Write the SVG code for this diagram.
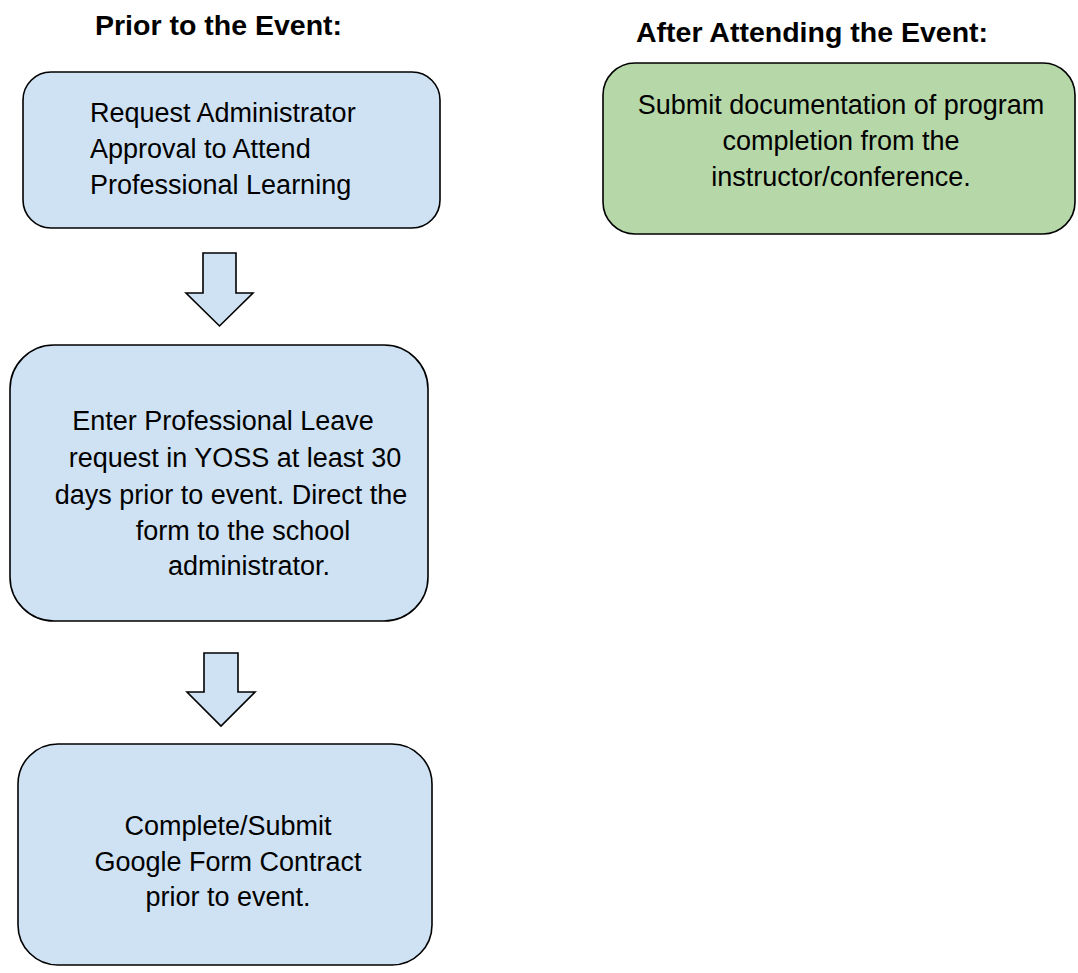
<svg xmlns="http://www.w3.org/2000/svg" width="1078" height="973" viewBox="0 0 1078 973">
  <style>
    .hdr { font-family: "Liberation Sans", Arial, sans-serif; font-weight: bold; font-size: 28.5px; fill: #000; }
    .txt { font-family: "Liberation Sans", Arial, sans-serif; font-size: 27px; fill: #000; }
    .mid { text-anchor: middle; }
    .blue { fill: #cfe2f3; stroke: #000; stroke-width: 1.6; }
    .green { fill: #b6d7a8; stroke: #000; stroke-width: 1.6; }
  </style>
  <rect width="1078" height="973" fill="#fff"/>

  <text class="hdr" x="95" y="35">Prior to the Event:</text>
  <text class="hdr" x="636" y="42">After Attending the Event:</text>

  <g id="request-approval">
    <rect class="blue" x="23" y="72" width="417" height="156" rx="28" ry="28"/>
    <text class="txt" x="90" y="122">Request Administrator</text>
    <text class="txt" x="90" y="158">Approval to Attend</text>
    <text class="txt" x="90" y="194">Professional Learning</text>
  </g>

  <g id="submit-documentation">
    <rect class="green" x="603" y="63" width="472" height="171" rx="32" ry="32"/>
    <text class="txt mid" x="841" y="114">Submit documentation of program</text>
    <text class="txt mid" x="841" y="150">completion from the</text>
    <text class="txt mid" x="841" y="186">instructor/conference.</text>
  </g>

  <g id="enter-leave">
    <rect class="blue" x="10" y="345" width="418" height="276" rx="44" ry="44"/>
    <text class="txt mid" x="223" y="430">Enter Professional Leave</text>
    <text class="txt mid" x="235" y="467">request in YOSS at least 30</text>
    <text class="txt mid" x="231" y="504">days prior to event. Direct the</text>
    <text class="txt mid" x="243" y="540">form to the school</text>
    <text class="txt mid" x="249" y="575">administrator.</text>
  </g>

  <g id="google-form">
    <rect class="blue" x="18" y="744" width="414" height="221" rx="40" ry="40"/>
    <text class="txt mid" x="228" y="835">Complete/Submit</text>
    <text class="txt mid" x="228" y="871">Google Form Contract</text>
    <text class="txt mid" x="228" y="906">prior to event.</text>
  </g>

  <g id="connectors">
    <path class="blue" d="M203,253 H236 V293 H253 L219.5,326 L186,293 H203 Z"/>
    <path class="blue" d="M204,653 H238 V692 H255 L221,726 L187,692 H204 Z"/>
  </g>
</svg>
